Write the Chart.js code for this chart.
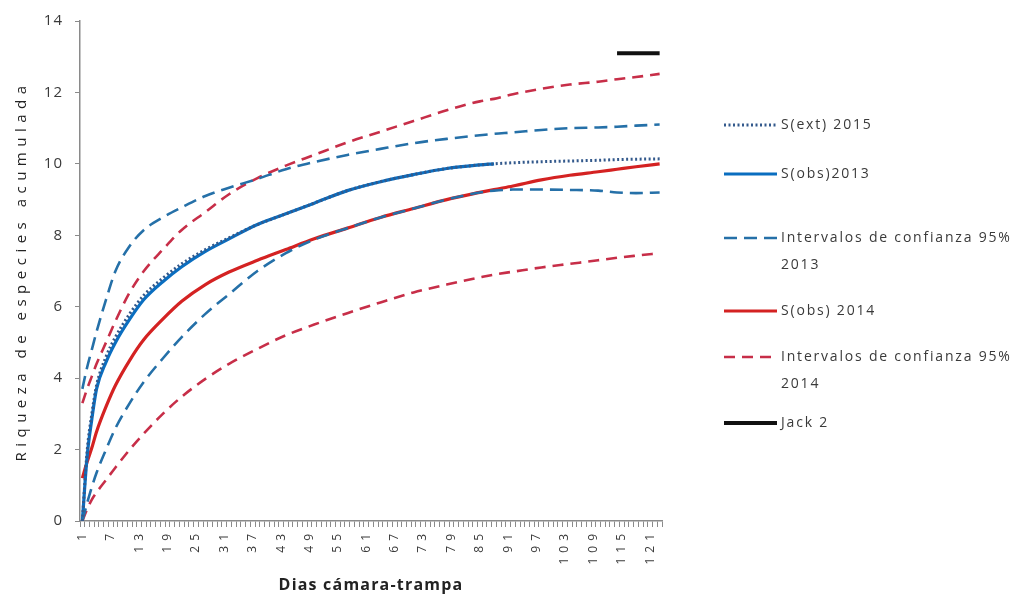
<!DOCTYPE html>
<html>
<head>
<meta charset="utf-8">
<script src="https://cdn.jsdelivr.net/npm/chart.js@4.4.1/dist/chart.umd.min.js"></script>
<style>
  html, body { margin: 0; padding: 0; background: #ffffff; }
  #wrap { position: relative; width: 1026px; height: 601px; }
</style>
</head>
<body>
<div id="wrap"><canvas id="c" width="1026" height="601"></canvas></div>
<script>
// Camera-trap days (category axis) and the days at which the curves were read
const days = [];
for (let d = 1; d <= 123; d++) days.push(String(d));
const labelEvery = 6;

const sampleDays = [1, 2, 3, 4, 6, 8, 11, 14, 18, 22, 27, 32, 38, 44, 50, 57, 64, 71, 78, 85, 88, 92, 98, 104, 110, 114, 118, 123];

// Accumulated species richness
const sExt2013   = [0, 1.95, 3.0, 3.8, 4.6, 5.15, 5.8, 6.32, 6.8, 7.2, 7.6, 7.93, 8.3, 8.6, 8.9, 9.25, 9.5, 9.7, 9.87, 9.97, 10.0, 10.03, 10.06, 10.08, 10.1, 10.12, 10.13, 10.14];
const sObs2013   = [0, 1.8, 2.85, 3.7, 4.45, 5.0, 5.65, 6.2, 6.7, 7.12, 7.55, 7.9, 8.3, 8.6, 8.9, 9.25, 9.5, 9.7, 9.87, 9.97, 10.0, null, null, null, null, null, null, null];
const ci2013Up   = [3.7, 4.3, 4.8, 5.3, 6.2, 7.0, 7.7, 8.15, 8.5, 8.78, 9.1, 9.33, 9.58, 9.85, 10.05, 10.25, 10.42, 10.58, 10.7, 10.8, 10.84, 10.88, 10.95, 11.0, 11.02, 11.04, 11.07, 11.1];
const ci2013Low  = [0, 0.5, 0.95, 1.35, 2.0, 2.6, 3.3, 3.9, 4.55, 5.15, 5.8, 6.35, 7.0, 7.5, 7.88, 8.2, 8.5, 8.75, 9.0, 9.2, 9.25, 9.28, 9.28, 9.27, 9.25, 9.2, 9.18, 9.2];
const sObs2014   = [1.2, 1.65, 2.05, 2.5, 3.2, 3.8, 4.5, 5.08, 5.65, 6.15, 6.62, 6.97, 7.3, 7.6, 7.9, 8.2, 8.5, 8.75, 9.0, 9.2, 9.28, 9.38, 9.55, 9.68, 9.78, 9.85, 9.92, 10.0];
const ci2014Up   = [3.3, 3.7, 4.05, 4.4, 5.0, 5.6, 6.4, 7.0, 7.6, 8.15, 8.65, 9.15, 9.6, 9.95, 10.25, 10.6, 10.9, 11.2, 11.5, 11.75, 11.82, 11.95, 12.1, 12.22, 12.3, 12.37, 12.43, 12.52];
const ci2014Low  = [0, 0.33, 0.6, 0.8, 1.15, 1.5, 2.0, 2.45, 3.0, 3.48, 3.98, 4.4, 4.82, 5.2, 5.5, 5.82, 6.12, 6.4, 6.62, 6.82, 6.9, 6.98, 7.1, 7.2, 7.3, 7.37, 7.43, 7.5];
const jack2      = [null, null, null, null, null, null, null, null, null, null, null, null, null, null, null, null, null, null, null, null, null, null, null, null, null, 13.1, 13.1, 13.1];

const yTicks = [0, 2, 4, 6, 8, 10, 12, 14];

// pair each reading with its day on the category axis
function points(values) {
  const out = [];
  sampleDays.forEach((d, i) => {
    if (values[i] !== null) out.push({ x: String(d), y: values[i] });
  });
  return out;
}

// letter spacing per scale part (canvas letterSpacing)
const spacing = {
  x: { ticks: 5, title: 1.2 },
  y: { ticks: 1, title: 5.5 }
};

function withSpacing(ctx, px, fn) {
  ctx.save();
  ctx.letterSpacing = px + 'px';
  fn();
  ctx.restore();
}

class SpacedCategoryScale extends Chart.CategoryScale {
  static id = 'spacedCategory';
  static defaults = Chart.CategoryScale.defaults;
  drawLabels(area) { withSpacing(this.ctx, spacing[this.id].ticks, () => super.drawLabels(area)); }
  drawTitle() { withSpacing(this.ctx, spacing[this.id].title, () => super.drawTitle()); }
}
class SpacedLinearScale extends Chart.LinearScale {
  static id = 'spacedLinear';
  static defaults = Chart.LinearScale.defaults;
  drawLabels(area) { withSpacing(this.ctx, spacing[this.id].ticks, () => super.drawLabels(area)); }
  drawTitle() { withSpacing(this.ctx, spacing[this.id].title, () => super.drawTitle()); }
}
Chart.register(SpacedCategoryScale, SpacedLinearScale);

const blue = '#0A6EC0';
const blueDash = '#2570A8';
const red = '#D42222';
const redDash = '#C72E48';
const dotted = '#33598C';

const datasets = [
  { label: 'S(ext) 2015', data: points(sExt2013), borderColor: dotted, borderWidth: 3, borderDash: [2, 2.5], order: 1 },
  { label: 'S(obs)2013', data: points(sObs2013), borderColor: blue, borderWidth: 3.2, order: 4 },
  { label: 'Intervalos de confianza 95%\n2013', data: points(ci2013Up), borderColor: blueDash, borderWidth: 2.6, borderDash: [13, 7], order: 2 },
  { label: 'Intervalos de confianza 95%\n2013', data: points(ci2013Low), borderColor: blueDash, borderWidth: 2.6, borderDash: [13, 7], order: 2 },
  { label: 'S(obs) 2014', data: points(sObs2014), borderColor: red, borderWidth: 3.2, order: 5 },
  { label: 'Intervalos de confianza 95%\n2014', data: points(ci2014Up), borderColor: redDash, borderWidth: 2.6, borderDash: [11, 7], order: 3 },
  { label: 'Intervalos de confianza 95%\n2014', data: points(ci2014Low), borderColor: redDash, borderWidth: 2.6, borderDash: [11, 7], order: 3 },
  { label: 'Jack 2', data: points(jack2), borderColor: '#111111', borderWidth: 4, order: 0 }
];
datasets.forEach(ds => {
  ds.pointRadius = 0;
  ds.fill = false;
  ds.cubicInterpolationMode = 'monotone';
  ds.borderCapStyle = 'butt';
});

// legend at the right, one entry per series (dataset index, row y)
const sideLegend = {
  id: 'sideLegend',
  afterDraw(chart) {
    const rows = [
      { ds: 0, y: 125 },
      { ds: 1, y: 174 },
      { ds: 2, y: 238 },
      { ds: 4, y: 311 },
      { ds: 5, y: 357 },
      { ds: 7, y: 423 }
    ];
    const ctx = chart.ctx;
    ctx.save();
    ctx.font = '14px "Open Sans"';
    ctx.letterSpacing = '1.8px';
    ctx.fillStyle = '#3a3a3a';
    ctx.textBaseline = 'middle';
    ctx.textAlign = 'left';
    rows.forEach(r => {
      const ds = chart.data.datasets[r.ds];
      ctx.save();
      ctx.beginPath();
      ctx.setLineDash(ds.borderDash || []);
      ctx.strokeStyle = ds.borderColor;
      ctx.lineWidth = ds.borderWidth;
      ctx.moveTo(724, r.y);
      ctx.lineTo(777, r.y);
      ctx.stroke();
      ctx.restore();
      ds.label.split('\n').forEach((t, i) => ctx.fillText(t, 781, r.y + i * 27));
    });
    ctx.restore();
  }
};

new Chart(document.getElementById('c'), {
  type: 'line',
  data: { labels: days, datasets },
  plugins: [sideLegend],
  options: {
    responsive: false,
    animation: false,
    devicePixelRatio: 1,
    layout: { padding: { left: 0, top: 20, right: 364, bottom: 0 } },
    plugins: { legend: { display: false }, tooltip: { enabled: false } },
    scales: {
      x: {
        type: 'spacedCategory',
        offset: true,
        afterFit(scale) { scale.height = 80; },
        border: { display: true, color: '#8a8a8a', width: 1.5 },
        grid: { display: true, drawOnChartArea: false, drawTicks: true, tickLength: 6, color: '#8a8a8a', offset: true },
        ticks: {
          autoSkip: false,
          maxRotation: 90,
          minRotation: 90,
          padding: 2,
          color: '#3a3a3a',
          font: { family: 'Open Sans', size: 12 },
          callback(value, index) { return index % labelEvery === 0 ? this.getLabelForValue(value) : ''; }
        },
        title: {
          display: true,
          text: 'Dias cámara-trampa',
          color: '#222222',
          font: { family: 'Open Sans', size: 16, weight: 'bold' },
          padding: { top: 0, bottom: 6 }
        }
      },
      y: {
        type: 'spacedLinear',
        min: 0,
        max: 14,
        afterFit(scale) { scale.width = 80; },
        afterBuildTicks(scale) { scale.ticks = yTicks.map(v => ({ value: v })); },
        border: { display: true, color: '#8a8a8a', width: 1.5 },
        grid: { display: true, drawOnChartArea: false, drawTicks: true, tickLength: 5, color: '#8a8a8a' },
        ticks: {
          padding: 12,
          color: '#3a3a3a',
          font: { family: 'Open Sans', size: 15 }
        },
        title: {
          display: true,
          text: 'Riqueza de especies acumulada',
          color: '#222222',
          font: { family: 'Open Sans', size: 15 },
          padding: { top: 13, bottom: 0 }
        }
      }
    }
  }
});
</script>
</body>
</html>
